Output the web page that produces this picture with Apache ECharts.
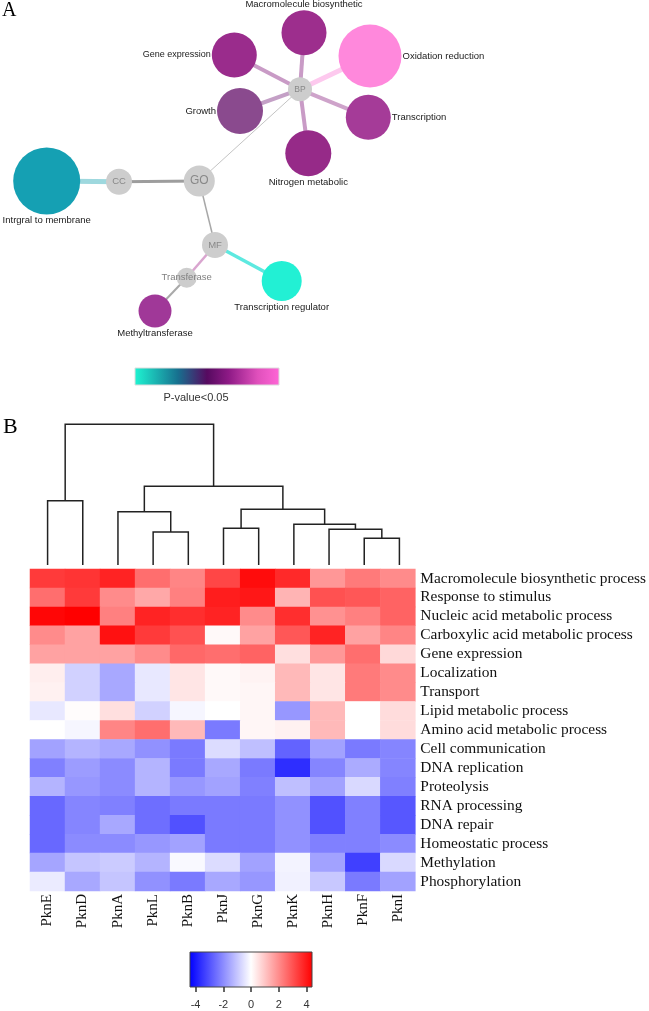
<!DOCTYPE html>
<html><head><meta charset="utf-8">
<script src="https://cdn.jsdelivr.net/npm/echarts@6/dist/echarts.min.js"></script>
<style>html,body{margin:0;padding:0;background:#fff}#c{width:649px;height:1011px}</style>
</head><body><div id="c"></div>
<script>
// ---------------- Panel A: GO network ----------------
const goTerms = ['GO','BP','CC','MF','Transferase','Macromolecule biosynthetic','Gene expression','Growth',
  'Oxidation reduction','Transcription','Nitrogen metabolic','Intrgral to membrane','Transcription regulator','Methyltransferase'];
// relative node weight (drawn as diameter)
const goWeight = [31, 24, 26, 26, 20, 45, 45, 46, 63, 45, 46, 67, 40, 33];
const goLinks = [
  ['GO','CC'],['GO','BP'],['GO','MF'],['CC','Intrgral to membrane'],
  ['BP','Macromolecule biosynthetic'],['BP','Gene expression'],['BP','Growth'],['BP','Oxidation reduction'],
  ['BP','Transcription'],['BP','Nitrogen metabolic'],
  ['MF','Transcription regulator'],['MF','Transferase'],['Transferase','Methyltransferase']
];
// layout (network layout coordinates)
const goLayoutX = [199.3, 300, 119, 215, 186.7, 304, 234.3, 240, 370, 368.3, 308.3, 46.7, 281.7, 155];
const goLayoutY = [181, 89.3, 181.7, 245, 277.7, 32.7, 55, 111, 56, 117.3, 153.3, 181, 281, 311];

// ---------------- Panel B: heatmap ----------------
const kinases = ['PknE','PknD','PknA','PknL','PknB','PknJ','PknG','PknK','PknH','PknF','PknI'];
const processes = ['Macromolecule biosynthetic process','Response to stimulus','Nucleic acid metabolic process',
  'Carboxylic acid metabolic process','Gene expression','Localization','Transport','Lipid metabolic process',
  'Amino acid metabolic process','Cell communication','DNA replication','Proteolysis','RNA processing',
  'DNA repair','Homeostatic process','Methylation','Phosphorylation'];
const vMacromolecule = [3.4, 3.5, 3.8, 2.5, 2.1, 3.2, 4.2, 3.7, 1.8, 2.3, 2.0];
const vResponse      = [2.5, 3.4, 2.0, 1.5, 2.2, 3.9, 4.0, 1.3, 3.0, 2.9, 2.7];
const vNucleic       = [4.3, 4.4, 2.2, 3.8, 3.6, 3.8, 2.0, 3.6, 1.9, 2.2, 2.7];
const vCarboxylic    = [2.0, 1.6, 4.1, 3.4, 3.0, 0.1, 1.6, 2.9, 3.8, 1.6, 2.1];
const vGeneExpr      = [1.6, 1.6, 1.6, 2.0, 2.6, 2.5, 2.7, 0.55, 1.8, 2.5, 0.65];
const vLocalization  = [0.3, -0.8, -1.5, -0.4, 0.45, 0.1, 0.2, 1.2, 0.45, 2.3, 2.0];
const vTransport     = [0.25, -0.8, -1.5, -0.4, 0.45, 0.1, 0.15, 1.2, 0.45, 2.3, 2.0];
const vLipid         = [-0.4, 0.05, 0.55, -0.8, -0.15, 0.0, 0.15, -1.8, 1.2, 0.0, 0.6];
const vAmino         = [0.0, -0.15, 2.1, 2.5, 1.2, -2.3, 0.15, 0.25, 1.2, 0.0, 0.6];
const vCellComm      = [-1.6, -1.3, -1.5, -1.9, -2.3, -0.6, -1.1, -2.7, -1.6, -2.3, -2.1];
const vDNArep        = [-2.2, -1.7, -2.0, -1.3, -2.3, -1.5, -2.3, -3.6, -2.1, -1.45, -2.1];
const vProteolysis   = [-1.3, -1.8, -2.0, -1.3, -1.8, -1.6, -2.2, -1.1, -1.6, -0.65, -2.2];
const vRNAproc       = [-2.6, -2.1, -2.2, -2.5, -2.3, -2.3, -2.3, -1.9, -3.0, -2.2, -2.9];
const vDNArepair     = [-2.6, -2.1, -1.5, -2.5, -3.0, -2.3, -2.3, -1.9, -3.0, -2.2, -2.9];
const vHomeostatic   = [-2.6, -2.0, -2.0, -1.8, -1.6, -2.3, -2.3, -1.9, -2.2, -2.2, -2.0];
const vMethylation   = [-1.55, -1.0, -0.9, -1.3, -0.1, -0.6, -1.6, -0.2, -1.6, -3.3, -0.65];
const vPhospho       = [-0.35, -1.5, -1.0, -1.9, -2.3, -1.5, -1.8, -0.25, -0.95, -2.3, -1.6];
const heatRows = [vMacromolecule, vResponse, vNucleic, vCarboxylic, vGeneExpr, vLocalization, vTransport,
  vLipid, vAmino, vCellComm, vDNArep, vProteolysis, vRNAproc, vDNArepair, vHomeostatic, vMethylation, vPhospho];

// dendrogram: leaves 0..10 are kinases; merges create nodes 11.. [childA, childB, height]
const dendroMerges = [
  [9, 10, 2.67], [3, 4, 3.30], [8, 11, 3.57], [5, 6, 3.67], [7, 13, 4.07],
  [2, 12, 5.33], [14, 15, 5.57], [0, 1, 6.43], [16, 17, 7.87], [18, 19, 14.07]
];
const scaleTicks = [-4, -2, 0, 2, 4];

// ---------------- styles ----------------
const nodeStyle = {
  'GO': {c:'#cdcdcd', pos:'inside', fs:12, tc:'#888'},
  'BP': {c:'#cdcdcd', pos:'inside', fs:8.5, tc:'#888'},
  'CC': {c:'#cdcdcd', pos:'inside', fs:9.5, tc:'#888'},
  'MF': {c:'#cdcdcd', pos:'inside', fs:9.5, tc:'#888'},
  'Transferase': {c:'#cdcdcd', pos:'inside', fs:9.5, tc:'#808080'},
  'Macromolecule biosynthetic': {c:'#9d2e8d', pos:'top'},
  'Gene expression': {c:'#9a2c8c', pos:'left', fs:9},
  'Growth': {c:'#8a4a8e', pos:'left'},
  'Oxidation reduction': {c:'#ff88dc', pos:'right'},
  'Transcription': {c:'#a53b98', pos:'right'},
  'Nitrogen metabolic': {c:'#962a88', pos:'bottom'},
  'Intrgral to membrane': {c:'#15a0b3', pos:'bottom'},
  'Transcription regulator': {c:'#22f0d4', pos:'bottom'},
  'Methyltransferase': {c:'#a03898', pos:'bottom'}
};
const linkStyle = {
  'GO-CC': ['#9d9d9d', 3], 'GO-BP': ['#c4c4c4', 1], 'GO-MF': ['#a8a8a8', 1.5],
  'CC-Intrgral to membrane': ['#9ed8de', 5],
  'BP-Macromolecule biosynthetic': ['#c99bc6', 4], 'BP-Gene expression': ['#c99bc6', 4],
  'BP-Growth': ['#c4a0c6', 4], 'BP-Oxidation reduction': ['#fdc9ee', 5],
  'BP-Transcription': ['#cea3ca', 4], 'BP-Nitrogen metabolic': ['#c99bc6', 4],
  'MF-Transcription regulator': ['#5de9e0', 3.5], 'MF-Transferase': ['#d9a5cf', 2.5],
  'Transferase-Methyltransferase': ['#a9a9a9', 2]
};

const graphData = goTerms.map((t, i) => {
  const s = nodeStyle[t];
  return {
    name: t, value: [goLayoutX[i], goLayoutY[i]], symbolSize: goWeight[i],
    itemStyle: {color: s.c},
    label: {show: true, position: s.pos, distance: 1, fontSize: s.fs || 9.5,
      color: s.tc || '#1a1a1a', fontFamily: 'Liberation Sans'}
  };
});
const graphLinks = goLinks.map(([a, b]) => {
  const st = linkStyle[a + '-' + b];
  return {source: a, target: b, lineStyle: {color: st[0], width: st[1], opacity: 1, curveness: 0}};
});

// dendrogram geometry from merges
const nodeX = kinases.map((_, i) => i);
const nodeH = kinases.map(() => 0);
const dendroLines = [];
dendroMerges.forEach(([a, b, h]) => {
  const xa = nodeX[a], xb = nodeX[b];
  dendroLines.push({coords: [[xa, nodeH[a]], [xa, h], [xb, h], [xb, nodeH[b]]]});
  nodeX.push((xa + xb) / 2);
  nodeH.push(h);
});

const heatData = [];
heatRows.forEach((row, r) => row.forEach((v, c) => heatData.push([c, r, v])));

const chart = echarts.init(document.getElementById('c'), null, {renderer: 'canvas'});
chart.setOption({
  animation: false,
  backgroundColor: '#fff',
  grid: [
    {left: 0, top: 0, width: 649, height: 400},
    {left: 30, top: 420, width: 387, height: 145},
    {left: 30, top: 569, width: 387, height: 322},
    {left: 190, top: 952, width: 122, height: 35}
  ],
  xAxis: [
    {type: 'value', gridIndex: 0, min: 0, max: 649, show: false},
    {type: 'value', gridIndex: 1, min: -0.5, max: 10.5, show: false},
    {type: 'category', gridIndex: 2, data: kinases, position: 'bottom',
      axisLine: {show: false}, axisTick: {show: false}, splitLine: {show: false},
      axisLabel: {rotate: 90, margin: 3, fontFamily: 'Liberation Serif', fontSize: 15, color: '#111', interval: 0}},
    {type: 'value', gridIndex: 3, min: -4.4, max: 4.4, position: 'bottom',
      axisLine: {show: false}, splitLine: {show: false},
      axisTick: {show: true, customValues: scaleTicks, length: 5, lineStyle: {color: '#333', width: 1.5}},
      axisLabel: {customValues: scaleTicks, margin: 12, fontSize: 11, color: '#333', fontFamily: 'Liberation Sans'}}
  ],
  yAxis: [
    {type: 'value', gridIndex: 0, min: 0, max: 400, inverse: true, show: false},
    {type: 'value', gridIndex: 1, min: 0, max: 14.5, show: false},
    {type: 'category', gridIndex: 2, data: processes, inverse: true, position: 'right',
      axisLine: {show: false}, axisTick: {show: false}, splitLine: {show: false},
      axisLabel: {margin: 5, fontFamily: 'Liberation Serif', fontSize: 15.4, color: '#111', interval: 0}},
    {type: 'value', gridIndex: 3, min: 0, max: 1, show: false}
  ],
  visualMap: {
    type: 'continuous', show: false, min: -4.4, max: 4.4, seriesIndex: 2, dimension: 2,
    inRange: {color: ['#0000ff', '#ffffff', '#ff0000']}
  },
  series: [
    {type: 'graph', layout: 'none', coordinateSystem: 'cartesian2d', xAxisIndex: 0, yAxisIndex: 0,
      data: graphData, links: graphLinks, roam: false, z: 3,
      emphasis: {disabled: true}},
    {type: 'lines', coordinateSystem: 'cartesian2d', xAxisIndex: 1, yAxisIndex: 1, polyline: true,
      data: dendroLines, lineStyle: {color: '#222', width: 1.5, opacity: 1}, silent: true},
    {type: 'heatmap', xAxisIndex: 2, yAxisIndex: 2, data: heatData,
      itemStyle: {borderWidth: 0}, emphasis: {disabled: true}, progressive: 0}
  ],
  graphic: [
    {type: 'text', left: 2, top: 1, style: {text: 'A', font: '20px "Liberation Serif"', fill: '#000'}},
    {type: 'text', left: 3, top: 416, style: {text: 'B', font: '22px "Liberation Serif"', fill: '#000'}},
    {type: 'rect', shape: {x: 135, y: 368, width: 144, height: 17},
      style: {stroke: '#dcdcdc', lineWidth: 1,
        fill: new echarts.graphic.LinearGradient(0, 0, 1, 0, [
          {offset: 0, color: '#1ef5d2'}, {offset: 0.3, color: '#17708f'}, {offset: 0.5, color: '#560a60'},
          {offset: 0.65, color: '#8e1a86'}, {offset: 0.85, color: '#e050bc'}, {offset: 1, color: '#ff66d6'}])}},
    {type: 'text', x: 196, y: 398, style: {text: 'P-value<0.05', font: '11px "Liberation Sans"', fill: '#333',
      textAlign: 'center', textVerticalAlign: 'middle'}},
    {type: 'rect', shape: {x: 190, y: 952, width: 122, height: 35},
      style: {stroke: '#444', lineWidth: 1,
        fill: new echarts.graphic.LinearGradient(0, 0, 1, 0, [
          {offset: 0, color: '#0000ff'}, {offset: 0.5, color: '#ffffff'}, {offset: 1, color: '#ff0000'}])}}
  ]
});
</script>
</body></html>
